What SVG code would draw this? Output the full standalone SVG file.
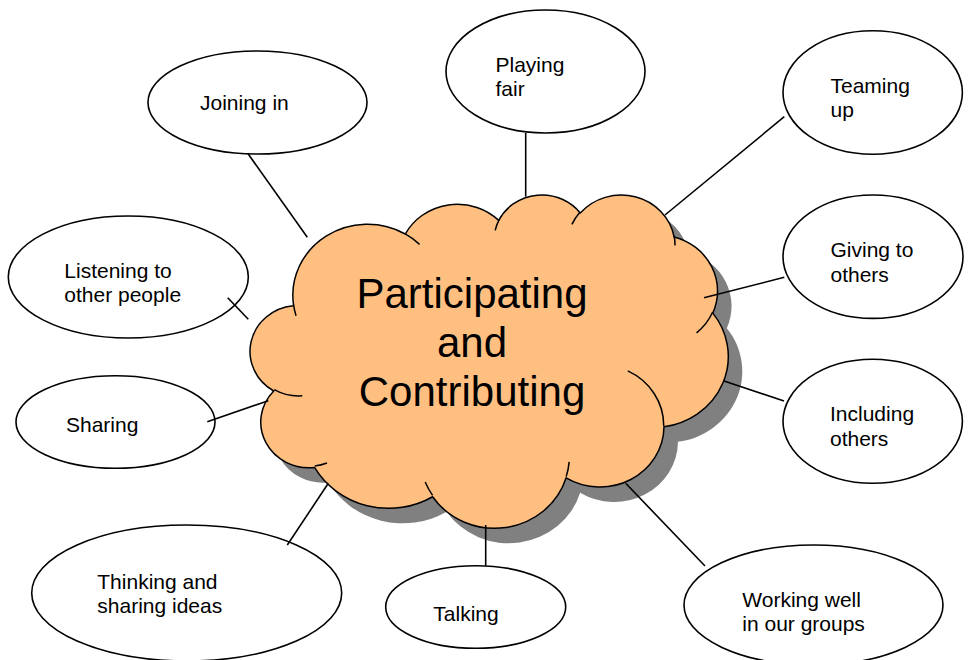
<svg xmlns="http://www.w3.org/2000/svg" width="968" height="660" viewBox="0 0 968 660">
<style>
.node ellipse{fill:#fff;stroke:#000;stroke-width:1.6}
.lbl{font-family:"Liberation Sans",Arial,sans-serif;font-size:21px;fill:#000}
.title{font-family:"Liberation Sans",Arial,sans-serif;font-size:42px;fill:#000;text-anchor:middle}
.conn line{stroke:#000;stroke-width:1.6}
.cloud{fill:#FFBF80;stroke:#000;stroke-width:1.5;stroke-linejoin:round}
.cloud-shadow{fill:#808080;stroke:none}
.cloud-inner{fill:none;stroke:#000;stroke-width:1.5}
</style>
<defs>
<path id="cloudShape" d="M293.52,304.72 A74.67,70.87 0 0 1 405.25,234.02 A58.97,56.04 0 0 1 498.71,220.38 A48.26,45.85 0 0 1 580.27,213.05 A53.70,50.86 0 0 1 674.09,236.93 A58.97,56.09 0 0 1 712.79,313.14 A74.91,71.10 0 0 1 663.98,426.84 A63.97,60.67 0 0 1 566.14,477.82 A74.66,71.07 0 0 1 432.63,496.73 A85.36,81.31 0 0 1 314.57,467.44 A48.21,45.64 0 0 1 273.76,390.92 A48.04,45.85 0 0 1 293.12,305.76 Z"/>
</defs>
<rect width="968" height="660" fill="#fff"/>
<g id="center">
<use href="#cloudShape" class="cloud-shadow" transform="translate(14,15)"/>
<use href="#cloudShape" class="cloud"/>
<path class="cloud-inner" d="M302.29,395.78 A48.04,45.85 0 0 1 274.27,389.63 M327.00,463.04 A48.21,45.64 0 0 1 314.75,465.99 M432.60,495.36 A74.66,71.07 0 0 1 425.21,481.94 M569.14,461.90 A74.66,71.07 0 0 1 566.19,476.62 M627.76,370.92 A63.97,60.67 0 0 1 663.71,425.95 M712.56,312.31 A58.97,56.09 0 0 1 696.55,332.95 M674.15,235.75 A53.70,50.86 0 0 1 674.99,245.49 M571.92,224.38 A53.70,50.86 0 0 1 580.12,211.94 M495.21,230.30 A48.26,45.85 0 0 1 499.18,219.58 M405.20,233.94 A74.67,70.87 0 0 1 419.58,244.35 M296.03,315.66 A74.67,70.87 0 0 1 293.52,304.72"/>
<text class="title"><tspan x="472" y="308">Participating</tspan><tspan x="472" y="357">and</tspan><tspan x="472" y="406">Contributing</tspan></text>
</g>
<g id="joining-in" class="node"><ellipse cx="257.5" cy="102.5" rx="109.5" ry="51.5"/><text class="lbl" x="200" y="110">Joining in</text></g>
<g id="playing-fair" class="node"><ellipse cx="545.5" cy="71.5" rx="99.5" ry="61.5"/><text class="lbl"><tspan x="495.5" y="72">Playing</tspan><tspan x="495.5" y="96">fair</tspan></text></g>
<g id="teaming-up" class="node"><ellipse cx="872.7" cy="92.5" rx="89.7" ry="61.8"/><text class="lbl"><tspan x="830.5" y="92.5">Teaming</tspan><tspan x="830.5" y="117">up</tspan></text></g>
<g id="giving-to-others" class="node"><ellipse cx="873" cy="256.7" rx="90" ry="61.7"/><text class="lbl"><tspan x="830.5" y="257">Giving to</tspan><tspan x="830.5" y="281.5">others</tspan></text></g>
<g id="including-others" class="node"><ellipse cx="872.7" cy="421.3" rx="89.7" ry="62"/><text class="lbl"><tspan x="830" y="421">Including</tspan><tspan x="830" y="445.5">others</tspan></text></g>
<g id="working-well" class="node"><ellipse cx="813.5" cy="605" rx="129.5" ry="60"/><text class="lbl"><tspan x="742.3" y="607">Working well</tspan><tspan x="742.3" y="631">in our groups</tspan></text></g>
<g id="talking" class="node"><ellipse cx="475.7" cy="607" rx="90" ry="41.3"/><text class="lbl" x="433.3" y="621">Talking</text></g>
<g id="thinking" class="node"><ellipse cx="186.7" cy="593" rx="155" ry="68"/><text class="lbl"><tspan x="97.3" y="588.5">Thinking and</tspan><tspan x="97.3" y="613">sharing ideas</tspan></text></g>
<g id="sharing" class="node"><ellipse cx="115.5" cy="422" rx="99.5" ry="46.3"/><text class="lbl" x="66" y="431.5">Sharing</text></g>
<g id="listening" class="node"><ellipse cx="128.3" cy="277" rx="120" ry="61"/><text class="lbl"><tspan x="64.3" y="277.5">Listening to</tspan><tspan x="64.3" y="302">other people</tspan></text></g>
<g id="connectors" class="conn">
<line x1="247.7" y1="153.3" x2="307.3" y2="237.3"/>
<line x1="525.7" y1="133" x2="525.7" y2="196.7"/>
<line x1="784.3" y1="116.7" x2="665" y2="215"/>
<line x1="784.3" y1="277.3" x2="704" y2="297.7"/>
<line x1="784" y1="401" x2="723.3" y2="380.7"/>
<line x1="705" y1="566" x2="625.7" y2="483.3"/>
<line x1="485.7" y1="525" x2="485.7" y2="565.7"/>
<line x1="287.3" y1="545" x2="328.3" y2="483.3"/>
<line x1="207.3" y1="421.7" x2="268.3" y2="400.7"/>
<line x1="227.7" y1="297.7" x2="248.3" y2="319.3"/>
</g>
</svg>
